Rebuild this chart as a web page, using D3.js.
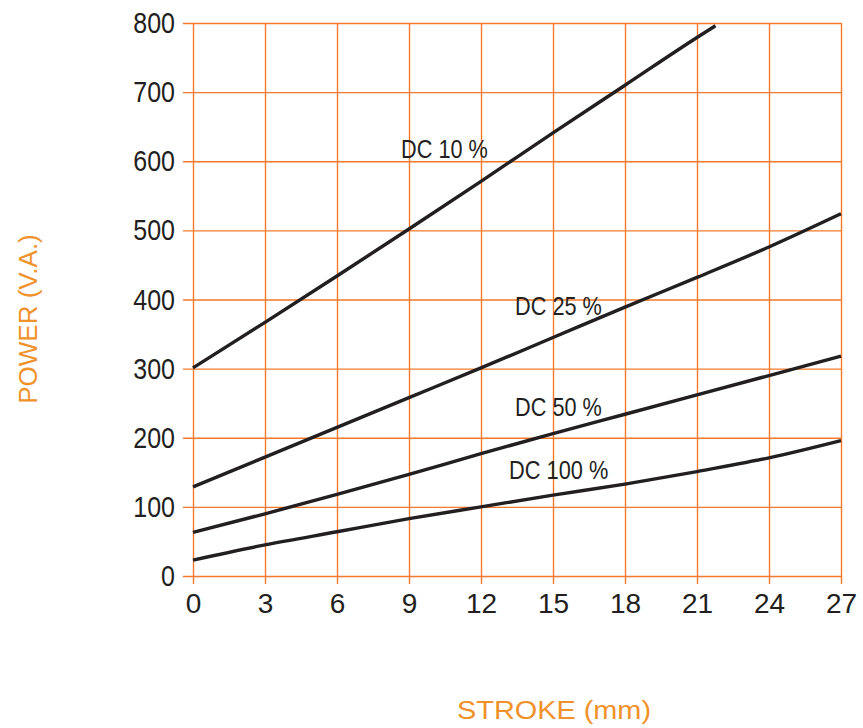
<!DOCTYPE html>
<html>
<head>
<meta charset="utf-8">
<script src="https://cdn.jsdelivr.net/npm/d3@7"></script>
<style>
  html, body { margin: 0; padding: 0; background: #fff; }
  svg { display: block; }
</style>
</head>
<body>
<svg id="chart" width="863" height="728"></svg>
<script>
// ---- data ----
const xTicks = [0, 3, 6, 9, 12, 15, 18, 21, 24, 27];
const yTicks = [0, 100, 200, 300, 400, 500, 600, 700, 800];
const seriesNames = ["DC 10 %", "DC 25 %", "DC 50 %", "DC 100 %"];
const strokeDC10  = [0, 3, 6, 9, 12, 15, 18, 21, 21.77];
const powerDC10   = [301, 367, 434, 502, 571, 641, 710, 779, 796];
const strokeStd   = [0, 3, 6, 9, 12, 15, 18, 21, 24, 27];
const powerDC25   = [129, 172, 215, 258, 301, 345, 389, 432, 476, 524];
const powerDC50   = [63, 90, 118, 147, 177, 206, 234, 262, 290, 318];
const powerDC100  = [23, 45, 64, 83, 100, 117, 133, 151, 171, 196];
// label anchor points (data units: stroke, power)
const labelStroke = [8.67, 13.42, 13.42, 13.17];
const labelPower  = [605, 378, 231, 140];
const xTitle = "STROKE (mm)";
const yTitle = "POWER (V.A.)";

// ---- layout ----
const svg = d3.select("#chart");
const x = d3.scaleLinear().domain([0, 27]).range([193, 841]);
const y = d3.scaleLinear().domain([0, 800]).range([576, 23]);
const gridColor = "#f37a2a";
const titleColor = "#f0922b";
const inkColor = "#231f20";
const font = "'Liberation Sans', Arial, sans-serif";

// horizontal grid + y ticks
const yAxis = d3.axisLeft(y).tickValues(yTicks).tickFormat(d3.format("d"))
  .tickSizeInner(-(841 - 183)).tickSizeOuter(0).tickPadding(8);
const gy = svg.append("g").attr("transform", "translate(183,0)").call(yAxis);
gy.select(".domain").remove();
gy.selectAll(".tick line").attr("stroke", gridColor).attr("stroke-width", 1.4);
gy.selectAll(".tick text")
  .attr("fill", inkColor)
  .attr("textLength", d => String(d).length * 13.9)
  .attr("lengthAdjust", "spacingAndGlyphs")
  .style("font-family", font)
  .style("font-size", "30px");

// vertical grid + x ticks
const xAxis = d3.axisBottom(x).tickValues(xTicks).tickFormat(d3.format("d"))
  .tickSizeInner(-(584 - 23)).tickSizeOuter(0).tickPadding(9);
const gx = svg.append("g").attr("transform", "translate(0,584)").call(xAxis);
gx.select(".domain").remove();
gx.selectAll(".tick line").attr("stroke", gridColor).attr("stroke-width", 1.4);
gx.selectAll(".tick text")
  .attr("fill", inkColor)
  .style("font-family", font)
  .style("font-size", "28px");

// lines
const series = [
  strokeDC10.map((s, i) => [s, powerDC10[i]]),
  strokeStd.map((s, i) => [s, powerDC25[i]]),
  strokeStd.map((s, i) => [s, powerDC50[i]]),
  strokeStd.map((s, i) => [s, powerDC100[i]])
];
const line = d3.line().x(d => x(d[0])).y(d => y(d[1])).curve(d3.curveMonotoneX);
svg.append("g").selectAll("path").data(series).join("path")
  .attr("d", line)
  .attr("fill", "none")
  .attr("stroke", inkColor)
  .attr("stroke-width", 3.4)
  .attr("stroke-linecap", "butt");

// series labels
svg.append("g").selectAll("text").data(seriesNames).join("text")
  .attr("x", (d, i) => x(labelStroke[i]))
  .attr("y", (d, i) => y(labelPower[i]))
  .attr("fill", inkColor)
  .attr("textLength", d => d.length * 12.4)
  .attr("lengthAdjust", "spacingAndGlyphs")
  .style("font-family", font)
  .style("font-size", "25px")
  .text(d => d);

// axis titles
svg.append("text")
  .attr("x", 554).attr("y", 719)
  .attr("text-anchor", "middle")
  .attr("fill", titleColor)
  .style("font-family", font)
  .style("font-size", "26px")
  .attr("textLength", 194)
  .attr("lengthAdjust", "spacingAndGlyphs")
  .text(xTitle);

svg.append("text")
  .attr("transform", "translate(37,319) rotate(-90)")
  .attr("text-anchor", "middle")
  .attr("fill", titleColor)
  .style("font-family", font)
  .style("font-size", "26px")
  .text(yTitle);
</script>
</body>
</html>
